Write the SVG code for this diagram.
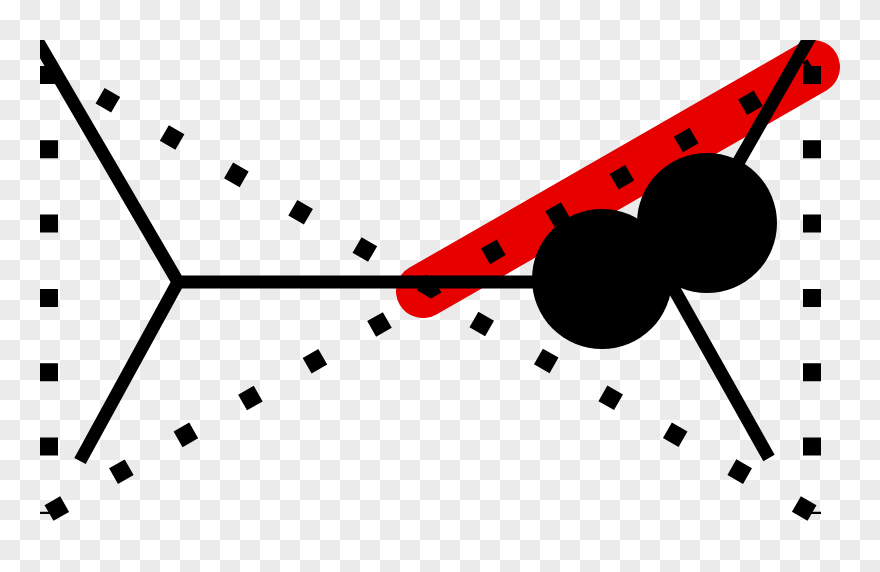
<svg xmlns="http://www.w3.org/2000/svg" width="880" height="572" viewBox="0 0 880 572">
  <defs>
    <pattern id="checker" width="40" height="40" patternUnits="userSpaceOnUse">
      <rect width="40" height="40" fill="#ffffff"/>
      <rect x="20" y="0" width="20" height="20" fill="#ebebeb"/>
      <rect x="0" y="20" width="20" height="20" fill="#ebebeb"/>
    </pattern>
    <clipPath id="frame">
      <rect x="40" y="40" width="840" height="532"/>
    </clipPath>
  </defs>
  <style>
    .dots { fill: none; stroke: #000; stroke-width: 18; stroke-dasharray: 18 56.3; stroke-linecap: butt; stroke-linejoin: miter; }
    .branch { fill: none; stroke: #000; stroke-width: 13; stroke-linecap: butt; stroke-linejoin: miter; }
    .band { fill: none; stroke: #e60000; stroke-width: 54; stroke-linecap: round; }
    .node { fill: #000; }
  </style>
  <rect id="background" width="880" height="572" fill="url(#checker)"/>
  <g id="highlight">
    <line class="band" x1="423" y1="291" x2="813" y2="67"/>
  </g>
  <g id="connectors">
    <path class="dots" d="M49,66 V514"/>
    <path class="dots" d="M49,513 L431,295"/>
    <path class="dots" d="M812,66 V514"/>
    <path class="dots" d="M812,513 L431,295"/>
    <path class="dots" style="stroke-dashoffset:15.2" d="M49,66 L431,288 L812,67"/>
    <g clip-path="url(#frame)">
      <path class="branch" d="M31,30 L178,282 L80,461 M178,282 H670 M814,30 L670,282 L769,458"/>
    </g>
  </g>
  <g id="node-a">
    <circle class="node" cx="602" cy="279" r="70"/>
  </g>
  <g id="node-b">
    <circle class="node" cx="707" cy="223" r="70"/>
  </g>
</svg>
